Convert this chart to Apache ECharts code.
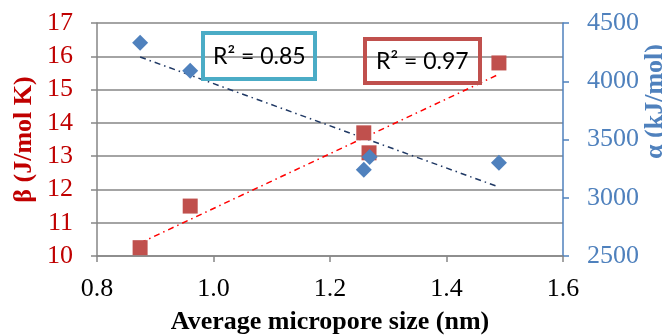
<!DOCTYPE html>
<html>
<head>
<meta charset="utf-8">
<script src="https://cdn.jsdelivr.net/npm/echarts@6/dist/echarts.min.js"></script>
<style>
  html, body { margin: 0; padding: 0; background: #fff; }
  #chart { width: 662px; height: 335px; }
</style>
</head>
<body>
<div id="chart"></div>
<script>
// pore size (nm) and the two measured quantities
const poreSize = [0.874, 0.96, 1.258, 1.267, 1.49];
const betaValues = [10.25, 11.5, 13.7, 13.1, 15.8];
const alphaPoreSize = [0.874, 0.96, 1.258, 1.268, 1.49];
const alphaValues = [4330, 4090, 3240, 3350, 3300];
// trend line end points
const betaTrendX = [0.874, 1.49];
const betaTrendY = [10.39, 15.46];
const alphaTrendX = [0.874, 1.49];
const alphaTrendY = [4208, 3092];
const r2Labels = ["R² = 0.85", "R² = 0.97"];

const serif = "'Liberation Serif', 'Times New Roman', serif";
const zip = (xs, ys) => xs.map((x, i) => [x, ys[i]]);

const chart = echarts.init(document.getElementById("chart"));
chart.setOption({
  animation: false,
  textStyle: { fontFamily: serif },
  grid: { left: 97, right: 99, top: 23, bottom: 79, outerBoundsMode: "none", containLabel: false },
  title: [
    {
      text: r2Labels[0],
      left: 203, top: 33,
      borderColor: "#4BACC6", borderWidth: 4,
      padding: [12, 10, 11, 10],
      textStyle: { fontFamily: "Lato", fontSize: 23, fontWeight: "normal", color: "#000" }
    },
    {
      text: r2Labels[1],
      left: 365, top: 39,
      borderColor: "#C0504D", borderWidth: 4,
      padding: [11, 12, 10, 11],
      textStyle: { fontFamily: "Lato", fontSize: 23, fontWeight: "normal", color: "#000" }
    }
  ],
  xAxis: {
    type: "value",
    min: 0.8, max: 1.6, interval: 0.2,
    name: "Average micropore size (nm)",
    nameLocation: "middle",
    nameGap: 53,
    nameMoveOverlap: false,
    nameTextStyle: { fontFamily: serif, fontSize: 26, fontWeight: "bold", color: "#000" },
    axisLine: { lineStyle: { color: "#868686", width: 1.5 } },
    axisTick: { length: 6, lineStyle: { color: "#868686", width: 1.5 } },
    axisLabel: {
      fontFamily: serif, fontSize: 26, color: "#000", margin: 20,
      formatter: v => v.toFixed(1)
    },
    splitLine: { show: false }
  },
  yAxis: [
    {
      type: "value",
      min: 10, max: 17, interval: 1,
      name: "β (J/mol K)",
      nameLocation: "middle",
      nameGap: 60,
      nameMoveOverlap: false,
      nameTextStyle: { fontFamily: serif, fontSize: 26, fontWeight: "bold", color: "#C00000" },
      axisLine: { show: true, lineStyle: { color: "#868686", width: 1.5 } },
      axisTick: { show: true, length: 6, lineStyle: { color: "#868686", width: 1.5 } },
      axisLabel: { fontFamily: serif, fontSize: 26, color: "#C00000", margin: 24 },
      splitLine: { lineStyle: { color: "#868686", width: 1.5 } }
    },
    {
      type: "value",
      min: 2500, max: 4500, interval: 500,
      name: "α (kJ/mol)",
      nameLocation: "middle",
      nameGap: 79,
      nameMoveOverlap: false,
      nameTextStyle: {
        fontFamily: serif, fontSize: 26, fontWeight: "bold", color: "#4F81BD",
        padding: [0, 0, 0, 76]
      },
      axisLine: { show: true, lineStyle: { color: "#4F81BD", width: 1.5 } },
      axisTick: { show: true, length: 6, lineStyle: { color: "#4F81BD", width: 1.5 } },
      axisLabel: {
        fontFamily: serif, fontSize: 26, color: "#4F81BD", margin: 24,
        formatter: v => String(v)
      },
      splitLine: { show: false }
    }
  ],
  series: [
    {
      name: "β trend",
      type: "line",
      yAxisIndex: 0,
      data: zip(betaTrendX, betaTrendY),
      symbol: "none",
      lineStyle: { color: "#FF0000", width: 1.5, type: [6, 4, 1.5, 4] },
      z: 2
    },
    {
      name: "α trend",
      type: "line",
      yAxisIndex: 1,
      data: zip(alphaTrendX, alphaTrendY),
      symbol: "none",
      lineStyle: { color: "#1F3864", width: 1.5, type: [6, 4, 1.5, 4] },
      z: 2
    },
    {
      name: "β",
      type: "scatter",
      yAxisIndex: 0,
      data: zip(poreSize, betaValues),
      symbol: "rect",
      symbolSize: 15,
      itemStyle: { color: "#C0504D", opacity: 1 },
      z: 3
    },
    {
      name: "α",
      type: "scatter",
      yAxisIndex: 1,
      data: zip(alphaPoreSize, alphaValues),
      symbol: "diamond",
      symbolSize: [16, 16],
      itemStyle: { color: "#4F81BD", opacity: 1 },
      z: 4
    }
  ]
});
</script>
</body>
</html>
